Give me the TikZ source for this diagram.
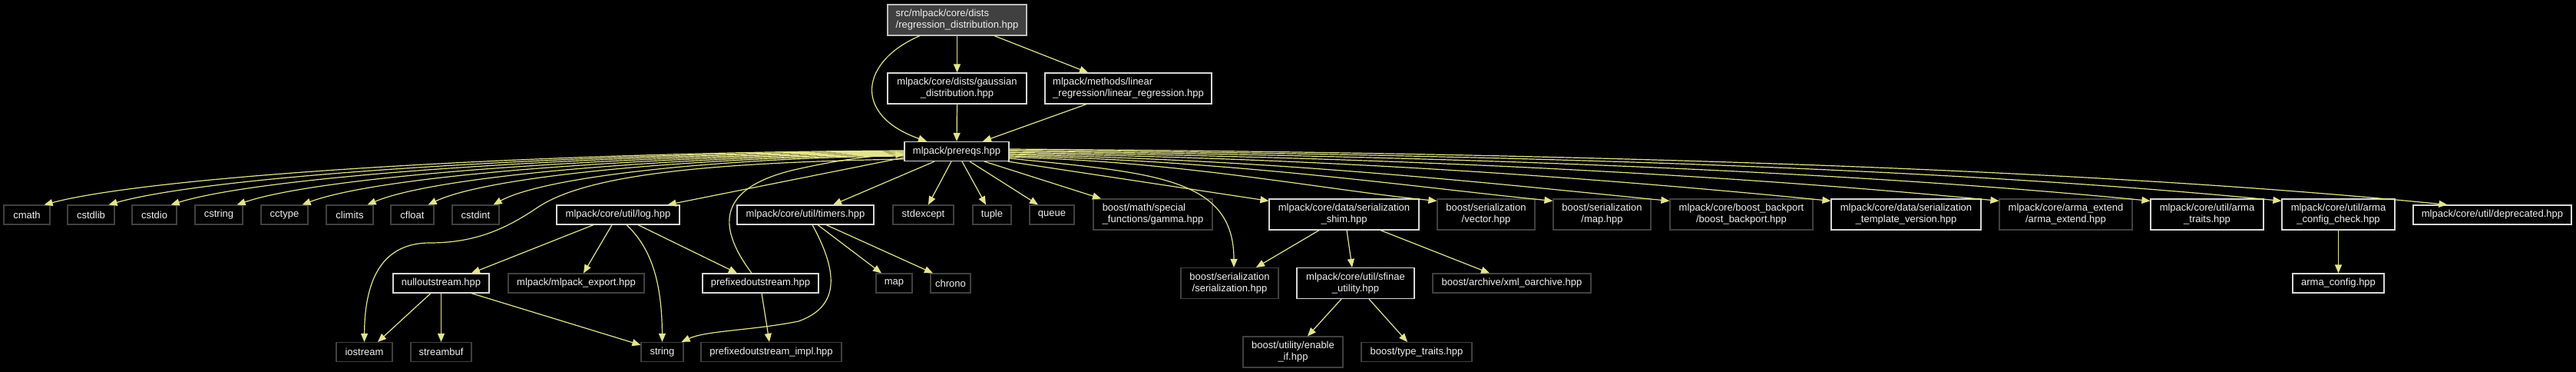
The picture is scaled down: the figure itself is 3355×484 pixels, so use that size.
\documentclass[tikz,border=0pt]{standalone}
\usepackage{fontspec}
\setmainfont{Liberation Sans}
\usetikzlibrary{arrows.meta}
\definecolor{edgec}{RGB}{228,228,140}
\definecolor{brightb}{RGB}{215,215,215}
\definecolor{rootb}{RGB}{190,190,190}
\definecolor{darkb}{RGB}{64,64,64}
\definecolor{rootfill}{RGB}{64,64,64}
\definecolor{textc}{RGB}{240,240,240}
\begin{document}
\begin{tikzpicture}[x=1pt,y=-1pt,
  box/.style={rectangle, fill=black, text=textc, inner sep=0pt, line width=1.2pt,
    font=\fontsize{13}{15}\selectfont, align=center},
  bb/.style={box, draw=brightb},
  db/.style={box, draw=darkb},
  rootbox/.style={box, draw=rootb, fill=rootfill},
  one/.style={minimum height=25pt},
  two/.style={minimum height=40pt},
  conn/.style={draw=edgec, line width=1.2pt, -{Triangle[length=11pt,width=9pt]}}]
\fill[black] (0,0) rectangle (3355,484);
\useasboundingbox (0,0) rectangle (3355,484);
% row 0-2
\node[rootbox, two, minimum width=181pt, align=left] (root) at (1246.5,26) {src/mlpack/core/dists\\/regression\_distribution.hpp};
\node[bb, two, minimum width=181pt] (gauss) at (1246.5,115) {mlpack/core/dists/gaussian\\\_distribution.hpp};
\node[bb, two, minimum width=217pt, align=left] (linreg) at (1469.5,115) {mlpack/methods/linear\\\_regression/linear\_regression.hpp};
\node[bb, one, minimum width=136pt] (prereqs) at (1246,197) {mlpack/prereqs.hpp};
% row 3
\node[db, one, minimum width=60pt] (cmath) at (35,279.5) {cmath};
\node[db, one, minimum width=61pt] (cstdlib) at (118.5,279.5) {cstdlib};
\node[db, one, minimum width=58pt] (cstdio) at (201,279.5) {cstdio};
\node[db, one, minimum width=62pt] (cstring) at (285,279.5) {cstring};
\node[db, one, minimum width=61pt] (cctype) at (370.5,279.5) {cctype};
\node[db, one, minimum width=61pt] (climits) at (455.5,279.5) {climits};
\node[db, one, minimum width=56pt] (cfloat) at (537,279.5) {cfloat};
\node[db, one, minimum width=61pt] (cstdint) at (619.5,279.5) {cstdint};
\node[bb, one, minimum width=160pt] (log) at (805,279.5) {mlpack/core/util/log.hpp};
\node[bb, one, minimum width=178pt] (timers) at (1049,279.5) {mlpack/core/util/timers.hpp};
\node[db, one, minimum width=79pt] (stdexcept) at (1202.5,279.5) {stdexcept};
\node[db, one, minimum width=50pt] (tuple) at (1292,279.5) {tuple};
\node[db, one, minimum width=58pt] (queue) at (1370,279.5) {queue};
\node[db, two, minimum width=155pt, align=left] (gamma) at (1501.5,279) {boost/math/special\\\_functions/gamma.hpp};
\node[bb, two, minimum width=195pt] (shim) at (1750.5,279) {mlpack/core/data/serialization\\\_shim.hpp};
\node[db, two, minimum width=127pt] (vector) at (1935.5,279) {boost/serialization\\/vector.hpp};
\node[db, two, minimum width=127pt] (maphpp) at (2086.5,279) {boost/serialization\\/map.hpp};
\node[db, two, minimum width=186pt] (backport) at (2268,279) {mlpack/core/boost\_backport\\/boost\_backport.hpp};
\node[bb, two, minimum width=195pt] (tmplver) at (2482.5,279) {mlpack/core/data/serialization\\\_template\_version.hpp};
\node[db, two, minimum width=173pt] (armaext) at (2690.5,279) {mlpack/core/arma\_extend\\/arma\_extend.hpp};
\node[bb, two, minimum width=147pt] (armatraits) at (2874.5,279) {mlpack/core/util/arma\\\_traits.hpp};
\node[bb, two, minimum width=147pt] (cfgcheck) at (3045.5,279) {mlpack/core/util/arma\\\_config\_check.hpp};
\node[bb, one, minimum width=206pt] (deprecated) at (3246,279.5) {mlpack/core/util/deprecated.hpp};
% row 4
\node[bb, one, minimum width=125pt] (nullout) at (574.5,368.5) {nulloutstream.hpp};
\node[db, one, minimum width=177pt] (export) at (750.5,368.5) {mlpack/mlpack\_export.hpp};
\node[bb, one, minimum width=151pt] (prefixed) at (990.5,368.5) {prefixedoutstream.hpp};
\node[db, one, minimum width=47pt] (map) at (1164.5,368.5) {map};
\node[db, one, minimum width=52pt] (chrono) at (1238,368.5) {chrono};
\node[db, two, minimum width=127pt] (serial) at (1601.5,368.5) {boost/serialization\\/serialization.hpp};
\node[bb, two, minimum width=153pt] (sfinae) at (1765.5,368.5) {mlpack/core/util/sfinae\\\_utility.hpp};
\node[db, one, minimum width=206pt] (xml) at (1969,368.5) {boost/archive/xml\_oarchive.hpp};
\node[bb, one, minimum width=119pt] (armacfg) at (3045.5,368.5) {arma\_config.hpp};
% row 5
\node[db, one, minimum width=73pt] (iostream) at (474.5,458) {iostream};
\node[db, one, minimum width=79pt] (streambuf) at (574.5,458) {streambuf};
\node[db, one, minimum width=55pt] (string) at (862.5,458) {string};
\node[db, one, minimum width=183pt] (impl) at (1004.5,458) {prefixedoutstream\_impl.hpp};
\node[db, two, minimum width=130pt] (enableif) at (1684,458) {boost/utility/enable\\\_if.hpp};
\node[db, one, minimum width=144pt] (typetraits) at (1845,458) {boost/type\_traits.hpp};
% edges from root
\draw[conn] (root.south) -- (gauss.north);
\draw[conn] ([xshift=48.5pt]root.south) -- ([xshift=-52.5pt]linreg.north);
\draw[conn] ([xshift=-48.5pt]root.south) .. controls (1120,80) and (1110,150) .. ([xshift=-39pt]prereqs.north);
\draw[conn] (gauss.south) -- (prereqs.north);
\draw[conn] ([xshift=-54.5pt]linreg.south) -- ([xshift=34pt]prereqs.north);
% left fan
\draw[conn] ([yshift=1pt]prereqs.west) .. controls (707,198) and (203,228) .. ([xshift=-8pt]cmath.north east);
\draw[conn] (prereqs.west) .. controls (742,199) and (276,228) .. ([xshift=-8pt]cstdlib.north east);
\draw[conn] ([yshift=-1pt]prereqs.west) .. controls (776,200) and (346,228) .. ([xshift=-8pt]cstdio.north east);
\draw[conn] ([yshift=-2pt]prereqs.west) .. controls (813,201) and (421,228) .. ([xshift=-8pt]cstring.north east);
\draw[conn] ([yshift=-3pt]prereqs.west) .. controls (848,202) and (495,228) .. ([xshift=-8pt]cctype.north east);
\draw[conn] ([yshift=-4pt]prereqs.west) .. controls (884,203) and (569,228) .. ([xshift=-8pt]climits.north east);
\draw[conn] ([yshift=-5pt]prereqs.west) .. controls (917,204) and (638,228) .. ([xshift=-8pt]cfloat.north east);
\draw[conn] ([yshift=-6pt]prereqs.west) .. controls (953,205) and (712,228) .. ([xshift=-8pt]cstdint.north east);
\draw[conn] ([yshift=-10pt]prereqs.west) .. controls (900,212) and (760,230) .. (700,270) .. controls (660,297) and (620,316) .. (560,316) .. controls (500,316) and (475,360) .. (iostream.north);
\draw[conn] ([yshift=-8pt]prereqs.west) -- ([xshift=-16pt]log.north east);
% down from prereqs
\draw[conn] ([xshift=-29pt]prereqs.south) -- ([xshift=36pt]timers.north);
\draw[conn] ([xshift=-7pt]prereqs.south) -- ([xshift=6.5pt]stdexcept.north);
\draw[conn] ([xshift=7pt]prereqs.south) -- ([xshift=-8pt]tuple.north);
\draw[conn] ([xshift=17pt]prereqs.south) -- ([xshift=-18pt]queue.north);
\draw[conn] ([xshift=36pt]prereqs.south) -- ([xshift=-67.5pt]gamma.north);
\draw[conn] ([xshift=-2pt]prereqs.south east) -- ([yshift=-3pt]shim.north west);
\draw[conn] ([yshift=-9pt]prereqs.east) .. controls (1500,225) and (1607,230) .. ([xshift=5.5pt]serial.north);
% right bundle
\draw[conn] ([yshift=-7.5pt]prereqs.east) .. controls (1537,209.5) and (1732,248) .. ([yshift=-3pt]vector.north west);
\draw[conn] ([yshift=-6pt]prereqs.east) .. controls (1598,208) and (1846,244) .. ([yshift=-3pt]maphpp.north west);
\draw[conn] ([yshift=-4.5pt]prereqs.east) .. controls (1658,206.5) and (1960,240.5) .. ([yshift=-3pt]backport.north west);
\draw[conn] ([yshift=-3pt]prereqs.east) .. controls (1742,205) and (2117,235) .. ([yshift=-3pt]tmplver.north west);
\draw[conn] ([yshift=-1.5pt]prereqs.east) .. controls (1830,203.5) and (2281,230) .. ([yshift=-3pt]armaext.north west);
\draw[conn] (prereqs.east) .. controls (1909,202) and (2429,225) .. ([yshift=-3pt]armatraits.north west);
\draw[conn] ([yshift=1.5pt]prereqs.east) .. controls (1977,200.5) and (2557,220.5) .. ([yshift=-3pt]cfgcheck.north west);
\draw[conn] ([yshift=3pt]prereqs.east) .. controls (2064,199) and (2719,220) .. ([xshift=45pt]deprecated.north west);
% timers
\draw[conn] ([xshift=9pt]timers.south) .. controls (1095,360) and (1090,400) .. (1040,418) .. controls (980,430) and (920,430) .. ([xshift=-3pt]string.north east);
\draw[conn] ([xshift=16pt]timers.south) -- ([xshift=-16.5pt]map.north);
\draw[conn] ([xshift=27pt]timers.south) -- ([xshift=-23pt]chrono.north);
% log
\draw[conn] ([xshift=-32pt]log.south) -- ([xshift=39.5pt]nullout.north);
\draw[conn] ([xshift=-8pt]log.south) -- ([xshift=9.5pt]export.north);
\draw[conn] ([xshift=11pt]log.south) .. controls (845,320) and (862,360) .. (string.north);
\draw[conn] ([xshift=26pt]log.south) -- ([xshift=-30.5pt]prefixed.north);
% prefixedoutstream
\draw[conn] ([xshift=-11.5pt]prefixed.north) .. controls (930,290) and (940,245) .. (1030,222) .. controls (1090,208) and (1140,202) .. ([yshift=-4pt]prereqs.west);
\draw[conn] ([xshift=1.5pt]prefixed.south) -- ([xshift=-2.5pt]impl.north);
% nulloutstream
\draw[conn] ([xshift=-13.5pt]nullout.south) -- ([xshift=17.5pt]iostream.north);
\draw[conn] (nullout.south) -- (streambuf.north);
\draw[conn] ([xshift=39.5pt]nullout.south) -- ([yshift=-4pt]string.north west);
% shim
\draw[conn] ([xshift=-32.5pt]shim.south) -- ([xshift=34.5pt]serial.north);
\draw[conn] ([xshift=3.5pt]shim.south) -- ([xshift=-4.5pt]sfinae.north);
\draw[conn] ([xshift=47.5pt]shim.south) -- ([xshift=-29pt]xml.north);
% sfinae
\draw[conn] ([xshift=-18.5pt]sfinae.south) -- ([xshift=19pt]enableif.north);
\draw[conn] ([xshift=17.5pt]sfinae.south) -- ([xshift=-12pt]typetraits.north);
% arma config
\draw[conn] (cfgcheck.south) -- (armacfg.north);
\end{tikzpicture}
\end{document}
